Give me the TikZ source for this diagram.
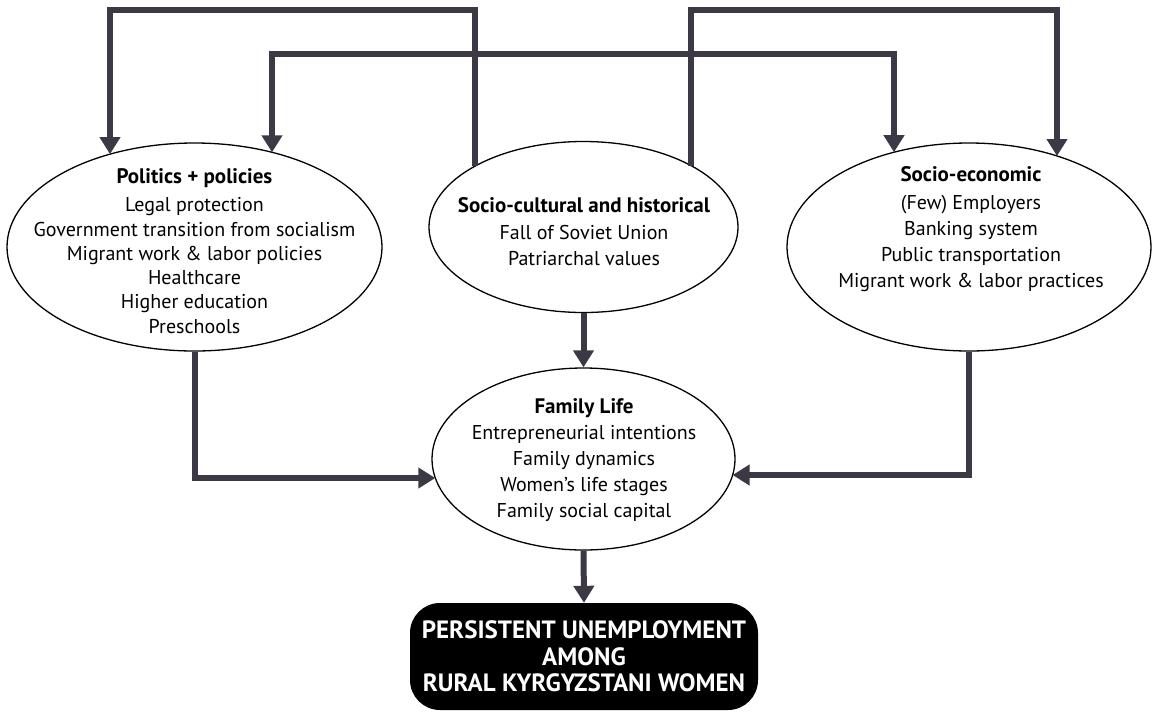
\documentclass[tikz,border=0pt]{standalone}
\usepackage{fontspec}
\setmainfont{PT Sans}
\usetikzlibrary{shapes.geometric,arrows.meta,calc}
\definecolor{linkgray}{RGB}{61,56,70}
\newcommand\ovalhead[1]{{\bfseries\fontsize{21}{26}\selectfont #1}}
\begin{document}
\begin{tikzpicture}[x=1pt,y=-1pt,
  oval/.style={ellipse, draw=black, line width=1.3pt, fill=white, inner sep=0pt},
  conn/.style={draw=linkgray, line width=6pt, -{Triangle[width=20pt,length=17pt]}},
  twoway/.style={draw=linkgray, line width=6pt,
    {Triangle[width=20pt,length=17pt]}-{Triangle[width=20pt,length=17pt]}},
  body/.style={align=center, inner sep=0pt, font=\fontsize{20}{26}\selectfont},
]
\useasboundingbox (0,0) rectangle (1154,713);

% the four ellipses
\node[oval, minimum width=375pt, minimum height=208pt] (L) at (194.5,247) {};
\node[oval, minimum width=309pt, minimum height=171pt] (M) at (583.5,227) {};
\node[oval, minimum width=364pt, minimum height=208pt] (R) at (969,247) {};
\node[oval, minimum width=303pt, minimum height=182pt] (F) at (583.5,459) {};

% outcome box
\node[fill=black, rounded corners=30pt, minimum width=348pt, minimum height=107pt,
      inner sep=0pt, text=white, align=center,
      font=\bfseries\fontsize{25}{26.5}\selectfont] (B) at (584,656.5)
  {PERSISTENT UNEMPLOYMENT\\AMONG\\RURAL KYRGYZSTANI WOMEN};

% ellipse texts
\node[body, font=\fontsize{20}{24.3}\selectfont] (Ltxt) at (194.5,251)
  {\ovalhead{Politics + policies}\\[4pt]
   Legal protection\\
   Government transition from socialism\\
   Migrant work \& labor policies\\
   Healthcare\\
   Higher education\\
   Preschools};
\node[body] (Mtxt) at (584,232)
  {\ovalhead{Socio-cultural and historical}\\[1pt]
   Fall of Soviet Union\\
   Patriarchal values};
\node[body] (Rtxt) at (971,229.5)
  {\ovalhead{Socio-economic}\\[2pt]
   (Few) Employers\\
   Banking system\\
   Public transportation\\
   Migrant work \& labor practices};
\node[body] (Ftxt) at (584,460)
  {\ovalhead{Family Life}\\
   Entrepreneurial intentions\\
   Family dynamics\\
   Women’s life stages\\
   Family social capital};

% points on the ellipse borders where the connectors meet them
\coordinate (top1) at (0,10);
\coordinate (top2) at (0,54);
\coordinate (Mout1) at ($(M.center)+(-108.5,-60.9)$);
\coordinate (Mout2) at ($(M.center)+(107.5,-61.4)$);
\coordinate (Lin1)  at ($(L.center)+(-84.5,-92.9)$);
\coordinate (Lin2)  at ($(L.center)+(77.5,-94.7)$);
\coordinate (Rin1)  at ($(R.center)+(-75,-94.8)$);
\coordinate (Rin2)  at ($(R.center)+(88,-91.0)$);
\coordinate (Fin1)  at ($(F.center)+(-148.2,19)$);
\coordinate (Fin2)  at ($(F.center)+(149.1,16)$);

% connectors
\draw[conn] (Mout1) |- (Lin1 |- top1) -- (Lin1);
\draw[conn] (Mout2) |- (Rin2 |- top1) -- (Rin2);
\draw[twoway] (Lin2) |- (Rin1 |- top2) -- (Rin1);
\draw[conn] (M.south) -- (F.north);
\draw[conn] (L.south) |- (Fin1);
\draw[conn] (R.south) |- (Fin2);
\draw[conn] (F.south) -- (B.north);
\end{tikzpicture}
\end{document}
